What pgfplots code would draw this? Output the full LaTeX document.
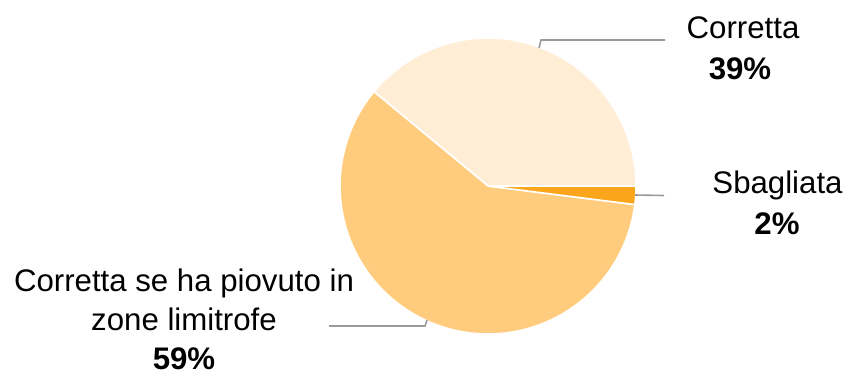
\documentclass[border=0pt]{standalone}
\usepackage{pgfplots}
\pgfplotsset{compat=1.18}
\usepackage{pgfplotstable}
\usepackage{fontspec}
\setmainfont{Liberation Sans}
\definecolor{cLight}{HTML}{FFEDD6}
\definecolor{cMid}{HTML}{FFCC7E}
\definecolor{cDark}{HTML}{FBA51A}
\definecolor{cLead}{HTML}{9A9A9A}
\pgfplotstableread{
label value
Corretta 39
Limitrofe 59
Sbagliata 2
}\piedata
\begin{document}
\begin{tikzpicture}
\pgfplotstablegetelem{0}{value}\of\piedata \let\va\pgfplotsretval
\pgfplotstablegetelem{1}{value}\of\piedata \let\vb\pgfplotsretval
\pgfplotstablegetelem{2}{value}\of\piedata \let\vc\pgfplotsretval
\pgfmathsetmacro{\aA}{\va*3.6}
\pgfmathsetmacro{\aB}{(\va+\vb)*3.6}
\pgfmathsetmacro{\aC}{(\va+\vb+\vc)*3.6}
\begin{axis}[
  scale only axis, width=424.5pt, height=187pt,
  xmin=0, xmax=849, ymin=0, ymax=374,
  hide axis, clip=false,
]
\def\cx{488}\def\cy{188}\def\rr{148}
\addplot[fill=cLight, draw=white, line width=0.8pt, domain=0:\aA, samples=90]
  ({\cx+\rr*cos(x)},{\cy+\rr*sin(x)}) -- (axis cs:\cx,\cy) -- cycle;
\addplot[fill=cMid, draw=white, line width=0.8pt, domain=\aA:\aB, samples=120]
  ({\cx+\rr*cos(x)},{\cy+\rr*sin(x)}) -- (axis cs:\cx,\cy) -- cycle;
\addplot[fill=cDark, draw=white, line width=0.8pt, domain=\aB:\aC, samples=10]
  ({\cx+\rr*cos(x)},{\cy+\rr*sin(x)}) -- (axis cs:\cx,\cy) -- cycle;
% leader lines
\draw[cLead, line width=0.8pt] (axis cs:539,326) -- (axis cs:541,334) -- (axis cs:665,334);
\draw[cLead, line width=0.8pt] (axis cs:635,179) -- (axis cs:664,178.5);
\draw[cLead, line width=0.8pt] (axis cs:427,54) -- (axis cs:425,48) -- (axis cs:329,48);
% labels
\begin{scope}[every node/.style={inner sep=0pt, anchor=base, font=\fontsize{15.6}{20}\selectfont}]
\node at (axis cs:743,335.7) {Corretta};
\node at (axis cs:740,295) {\bfseries 39\%};
\node at (axis cs:777.5,180.7) {Sbagliata};
\node at (axis cs:777,140) {\bfseries 2\%};
\node at (axis cs:184,83) {Corretta se ha piovuto in};
\node at (axis cs:184,44) {zone limitrofe};
\node at (axis cs:184,5) {\bfseries 59\%};
\end{scope}
\path (axis cs:0,0) rectangle (axis cs:849,374);
\end{axis}
\end{tikzpicture}
\end{document}
